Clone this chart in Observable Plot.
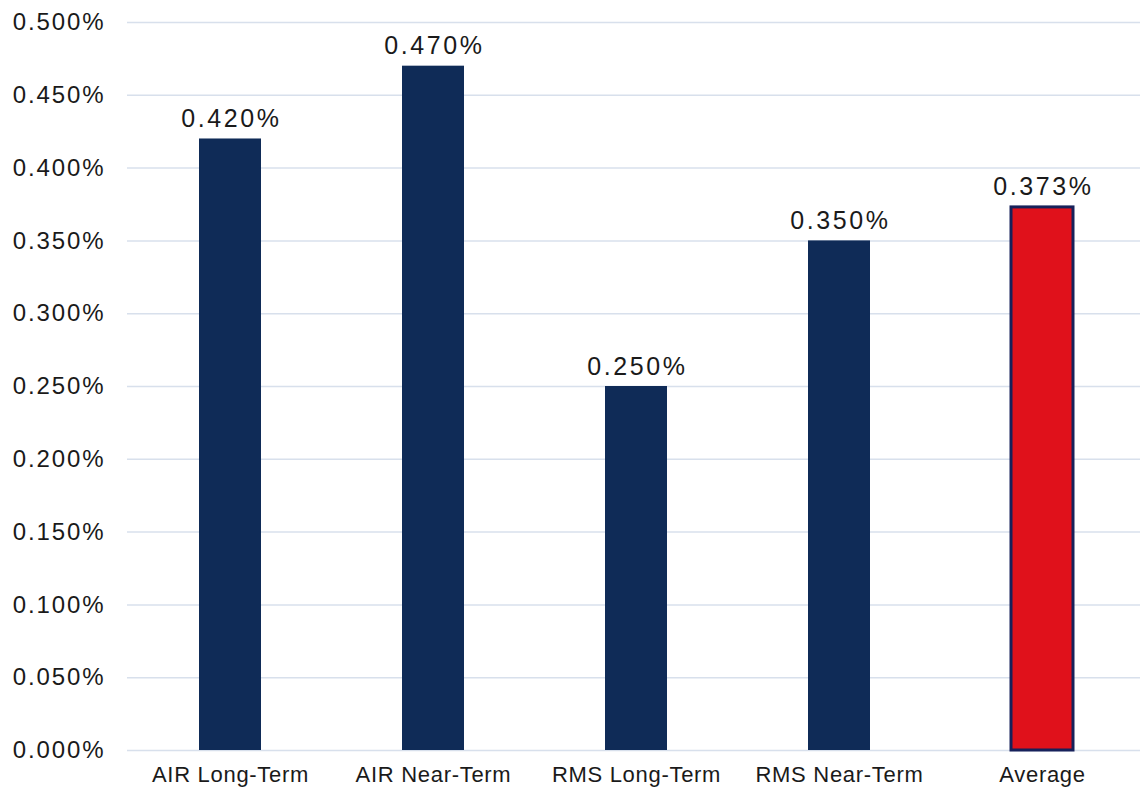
<!DOCTYPE html>
<html>
<head>
<meta charset="utf-8">
<script src="https://cdn.jsdelivr.net/npm/d3@7"></script>
<script src="https://cdn.jsdelivr.net/npm/@observablehq/plot@0.6"></script>
<style>
  html, body { margin: 0; padding: 0; background: #fff; }
  svg { display: block; }
  g[aria-label="y-axis tick label"] text { letter-spacing: 1.9px; }
  g[aria-label="x-axis tick label"] text { letter-spacing: 0.7px; }
  g[aria-label="text"] text { letter-spacing: 2.6px; }
</style>
</head>
<body>
<div id="chart"></div>
<script>
const categories = ["AIR Long-Term", "AIR Near-Term", "RMS Long-Term", "RMS Near-Term", "Average"];
const values = [0.00420, 0.00470, 0.00250, 0.00350, 0.00373];
const yTicks = [0, 0.0005, 0.001, 0.0015, 0.002, 0.0025, 0.003, 0.0035, 0.004, 0.0045, 0.005];

const data = categories.map((c, i) => ({category: c, value: values[i], avg: c === "Average"}));
const fmt = d3.format(".3%");

const chart = Plot.plot({
  width: 1140,
  height: 795,
  marginLeft: 127,
  marginRight: 0,
  marginTop: 22,
  marginBottom: 45,
  style: {fontFamily: "Liberation Sans, Arial, sans-serif", color: "#1a1a1a", background: "#fff"},
  x: {domain: categories, paddingInner: 0.695, paddingOuter: 0.333, align: 0.52, label: null},
  y: {domain: [0, 0.005], label: null},
  marks: [
    Plot.ruleY(yTicks, {stroke: "#d8e0ec", strokeWidth: 1.5}),
    Plot.barY(data, {x: "category", y: "value", fill: d => d.avg ? "#e0111b" : "#0f2b57",
      stroke: d => d.avg ? "#17215a" : "none", strokeWidth: 3}),
    Plot.text(data, {x: "category", y: "value", text: d => fmt(d.value), lineAnchor: "bottom", dy: -12, dx: 1, fontSize: 25, fill: "#1a1a1a"}),
    Plot.axisY({ticks: yTicks, tickFormat: fmt, tickSize: 0, tickPadding: 22, fontSize: 24, label: null}),
    Plot.axisX({tickSize: 0, tickPadding: 16, fontSize: 22, label: null})
  ]
});
document.getElementById("chart").appendChild(chart);
</script>
</body>
</html>
